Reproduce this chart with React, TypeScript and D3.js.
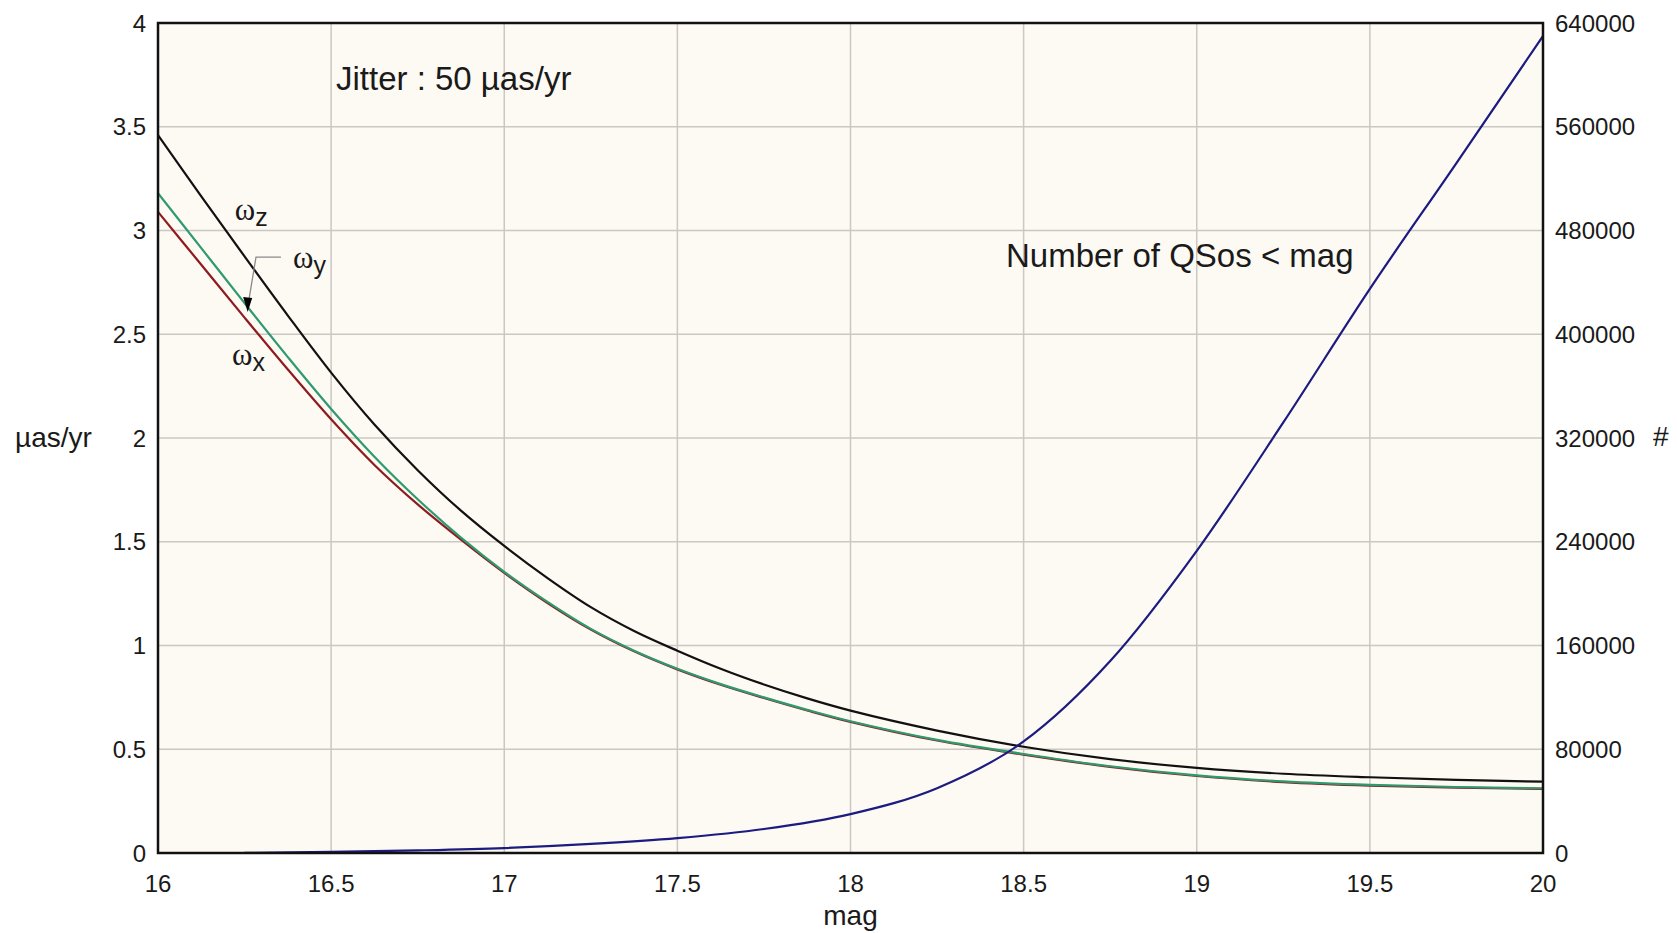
import { useRef, useEffect } from "react";
import * as d3 from "d3";

// magnitudes at which the proper-motion curves were read
const mags = [
  16, 16.125, 16.25, 16.375, 16.5, 16.625, 16.75, 16.875, 17, 17.125, 17.25,
  17.375, 17.5, 17.625, 17.75, 17.875, 18, 18.25, 18.5, 18.75, 19, 19.25, 19.5,
  19.75, 20,
];
const omegaZ = [
  3.46, 3.165, 2.875, 2.59, 2.315, 2.065, 1.845, 1.65, 1.48, 1.325, 1.185, 1.07,
  0.975, 0.888, 0.812, 0.745, 0.686, 0.59, 0.512, 0.452, 0.41, 0.382, 0.365,
  0.352, 0.344,
];
const omegaY = [
  3.18, 2.915, 2.65, 2.39, 2.14, 1.91, 1.705, 1.52, 1.355, 1.21, 1.08, 0.975,
  0.888, 0.814, 0.75, 0.69, 0.635, 0.545, 0.477, 0.418, 0.374, 0.345, 0.328,
  0.318, 0.312,
];
const omegaX = [
  3.09, 2.835, 2.58, 2.33, 2.09, 1.87, 1.68, 1.51, 1.35, 1.205, 1.077, 0.972,
  0.885, 0.811, 0.747, 0.687, 0.632, 0.542, 0.474, 0.415, 0.371, 0.342, 0.325,
  0.315, 0.309,
];

// cumulative number of QSOs brighter than mag
const qsoMags = [
  16.25, 16.5, 16.75, 17, 17.25, 17.5, 17.75, 18, 18.25, 18.5, 18.75, 19, 19.25,
  19.5, 19.75, 20,
];
const qsoCounts = [
  100, 800, 2000, 3800, 7000, 11500, 18500, 30000, 50000, 86000, 148000, 233000,
  332000, 435000, 532000, 630000,
];

const xTicks = [16, 16.5, 17, 17.5, 18, 18.5, 19, 19.5, 20];
const leftTicks = [0, 0.5, 1, 1.5, 2, 2.5, 3, 3.5, 4];
const rightTicks = [0, 80000, 160000, 240000, 320000, 400000, 480000, 560000, 640000];

const W = 1677;
const H = 933;
const FONT = "'Liberation Sans', Arial, sans-serif";
const SERIF = "'Liberation Serif', 'Times New Roman', serif";

export default function App() {
  const svgRef = useRef(null);

  useEffect(() => {
    if (!svgRef.current) return;
    const svg = d3.select(svgRef.current);
    svg.selectAll("*").remove();

    const left = 158, right = 1543, top = 23, bottom = 853;

    const x = d3.scaleLinear().domain([16, 20]).range([left, right]);
    const y = d3.scaleLinear().domain([0, 4]).range([bottom, top]);
    const yR = d3.scaleLinear().domain([0, 640000]).range([bottom, top]);

    // plot background
    svg
      .append("rect")
      .attr("x", left)
      .attr("y", top)
      .attr("width", right - left)
      .attr("height", bottom - top)
      .attr("fill", "#fdf9f3");

    // grid
    const grid = svg.append("g").attr("stroke", "#cbc7c2").attr("stroke-width", 1.5);
    grid
      .selectAll("line.v")
      .data(xTicks.slice(1, -1))
      .join("line")
      .attr("x1", (d) => x(d))
      .attr("x2", (d) => x(d))
      .attr("y1", top)
      .attr("y2", bottom);
    grid
      .selectAll("line.h")
      .data(leftTicks.slice(1, -1))
      .join("line")
      .attr("x1", left)
      .attr("x2", right)
      .attr("y1", (d) => y(d))
      .attr("y2", (d) => y(d));

    svg
      .append("defs")
      .append("clipPath")
      .attr("id", "plot-clip")
      .append("rect")
      .attr("x", left)
      .attr("y", top)
      .attr("width", right - left)
      .attr("height", bottom - top);

    const plot = svg.append("g").attr("clip-path", "url(#plot-clip)");

    const omegaLine = d3
      .line()
      .x((d, i) => x(mags[i]))
      .y((d) => y(d))
      .curve(d3.curveCatmullRom.alpha(0.5));

    const series = [
      { values: omegaX, color: "#8e1b1e" },
      { values: omegaY, color: "#2f9a70" },
      { values: omegaZ, color: "#111111" },
    ];
    series.forEach((s) => {
      plot
        .append("path")
        .attr("d", omegaLine(s.values))
        .attr("fill", "none")
        .attr("stroke", s.color)
        .attr("stroke-width", 2.2);
    });

    const qsoLine = d3
      .line()
      .x((d, i) => x(qsoMags[i]))
      .y((d) => yR(d))
      .curve(d3.curveMonotoneX);

    plot
      .append("path")
      .attr("d", qsoLine(qsoCounts))
      .attr("fill", "none")
      .attr("stroke", "#1b1b80")
      .attr("stroke-width", 2.2);

    // frame
    svg
      .append("rect")
      .attr("x", left)
      .attr("y", top)
      .attr("width", right - left)
      .attr("height", bottom - top)
      .attr("fill", "none")
      .attr("stroke", "#111")
      .attr("stroke-width", 2.5);

    // tick labels
    svg
      .append("g")
      .selectAll("text")
      .data(leftTicks)
      .join("text")
      .attr("x", left - 12)
      .attr("y", (d) => y(d))
      .attr("dy", "0.36em")
      .attr("text-anchor", "end")
      .style("font", `24px ${FONT}`)
      .attr("fill", "#1a1a1a")
      .text((d) => String(d));

    svg
      .append("g")
      .selectAll("text")
      .data(rightTicks)
      .join("text")
      .attr("x", right + 12)
      .attr("y", (d) => yR(d))
      .attr("dy", "0.36em")
      .style("font", `24px ${FONT}`)
      .attr("fill", "#1a1a1a")
      .text((d) => String(d));

    svg
      .append("g")
      .selectAll("text")
      .data(xTicks)
      .join("text")
      .attr("x", (d) => x(d))
      .attr("y", bottom + 39)
      .attr("text-anchor", "middle")
      .style("font", `24px ${FONT}`)
      .attr("fill", "#1a1a1a")
      .text((d) => String(d));

    // axis titles
    svg
      .append("text")
      .attr("x", (left + right) / 2)
      .attr("y", bottom + 72)
      .attr("text-anchor", "middle")
      .style("font", `28px ${FONT}`)
      .attr("fill", "#1a1a1a")
      .text("mag");

    svg
      .append("text")
      .attr("x", 15)
      .attr("y", y(2) + 9)
      .style("font", `28px ${FONT}`)
      .attr("fill", "#1a1a1a")
      .text("µas/yr");

    svg
      .append("text")
      .attr("x", 1653)
      .attr("y", yR(320000) + 8)
      .style("font", `28px ${FONT}`)
      .attr("fill", "#1a1a1a")
      .text("#");

    // annotations
    svg
      .append("text")
      .attr("x", x(16.514))
      .attr("y", y(3.676))
      .style("font", `33px ${FONT}`)
      .attr("fill", "#1a1a1a")
      .text("Jitter : 50 µas/yr");

    svg
      .append("text")
      .attr("x", x(18.449))
      .attr("y", y(2.824))
      .style("font", `33px ${FONT}`)
      .attr("fill", "#1a1a1a")
      .text("Number of QSos < mag");

    const omegaLabels = [
      { m: 16.222, v: 3.051, sub: "z" },
      { m: 16.39, v: 2.819, sub: "y" },
      { m: 16.214, v: 2.352, sub: "x" },
    ];
    omegaLabels.forEach((l) => {
      const t = svg
        .append("text")
        .attr("x", x(l.m))
        .attr("y", y(l.v))
        .attr("fill", "#1a1a1a");
      t.append("tspan").style("font", `31px ${SERIF}`).text("ω");
      t.append("tspan")
        .attr("dy", 6)
        .style("font", `25px ${FONT}`)
        .text(l.sub);
    });

    // leader arrow for ωy
    const leader = [
      [16.355, 2.872],
      [16.283, 2.872],
      [16.263, 2.67],
    ];
    svg
      .append("path")
      .attr("d", d3.line()(leader.map(([m, v]) => [x(m), y(v)])))
      .attr("fill", "none")
      .attr("stroke", "#8a8a8a")
      .attr("stroke-width", 1.3);

    const tip = [x(16.259), y(2.607)];
    svg
      .append("path")
      .attr(
        "d",
        `M${tip[0]},${tip[1]} L${tip[0] - 4.5},${tip[1] - 15} L${tip[0] + 4.5},${tip[1] - 14} Z`
      )
      .attr("fill", "#000");
  }, []);

  return (
    <svg
      ref={svgRef}
      width={W}
      height={H}
      style={{ position: "absolute", left: 0, top: 0, background: "#fff" }}
    ></svg>
  );
}
